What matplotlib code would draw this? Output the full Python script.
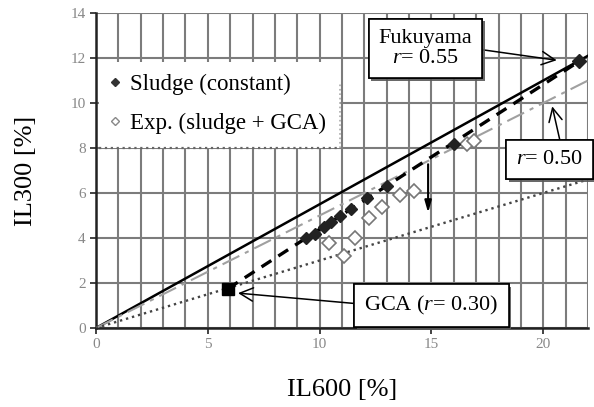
import matplotlib
matplotlib.use("Agg")
import matplotlib.pyplot as plt
from matplotlib import patheffects as pe
from matplotlib.patches import Rectangle

plt.rcParams['font.family'] = ['Liberation Serif', 'DejaVu Serif']
plt.rcParams['mathtext.fontset'] = 'custom'
plt.rcParams['mathtext.rm'] = 'Liberation Serif'
plt.rcParams['mathtext.it'] = 'Liberation Serif:italic'

# ---- data ----
sludge_x = [9.4, 9.8, 10.2, 10.5, 10.9, 11.4, 12.1, 13.0, 16.0]
sludge_y = [4.0, 4.2, 4.5, 4.7, 5.0, 5.3, 5.8, 6.3, 8.2]
exp_x = [10.4, 11.1, 11.6, 12.2, 12.8, 13.6, 14.2, 16.6, 16.9]
exp_y = [3.8, 3.2, 4.0, 4.9, 5.4, 5.9, 6.1, 8.2, 8.3]
fukuyama_xy = (21.6, 11.85)
gca_xy = (5.9, 1.75)
r_fukuyama = 0.55
r_mid = 0.50
r_gca = 0.30
x_range = [0, 22]
x_ticks = [0, 5, 10, 15, 20]
y_ticks = [0, 2, 4, 6, 8, 10, 12, 14]

fig = plt.figure(figsize=(5.94, 4.07), dpi=100)
ax = fig.add_axes([96/594, 1-328/407, (588-96)/594, (328-13)/407])

ax.set_xlim(0, 22)
ax.set_ylim(0, 14)

# grid
for xv in range(0, 23):
    ax.axvline(xv, color='#7c7c7c', lw=1.5, zorder=0.5)
for yv in y_ticks:
    ax.axhline(yv, color='#7c7c7c', lw=1.5, zorder=0.5)

# legend background
ax.add_patch(Rectangle((0.12, 8.0), 10.8, 3.8, facecolor='white', edgecolor='none', zorder=1))
ax.plot([0.12, 10.9], [8.0, 8.0], color='#666666', lw=1.6, ls=':', zorder=1.1)
ax.plot([10.9, 10.9], [8.0, 10.9], color='#aaaaaa', lw=1.2, ls=':', zorder=1.1)

# reference lines
ax.plot(x_range, [r_fukuyama * v for v in x_range], color='black', lw=1.8, zorder=3)
ax.plot(x_range, [r_mid * v for v in x_range], color='#a0a0a0', lw=1.5,
        dashes=(9, 3, 2, 3), zorder=3)
ax.plot(x_range, [r_gca * v for v in x_range], color='#444444', lw=1.7, ls=':', zorder=3)
ax.plot([gca_xy[0], fukuyama_xy[0]], [gca_xy[1], fukuyama_xy[1]], color='black',
        lw=2.4, dashes=(3.5, 2.5), zorder=3.5)

# data points
ax.plot(exp_x, exp_y, ls='none', marker='D', markersize=7, markerfacecolor='white',
        markeredgecolor='#777777', markeredgewidth=1.2, zorder=4)
ax.plot(sludge_x, sludge_y, ls='none', marker='D', markersize=6, color='#222222', zorder=5)
ax.plot([fukuyama_xy[0]], [fukuyama_xy[1]], ls='none', marker='D', markersize=7,
        color='#222222', zorder=5)
ax.plot([gca_xy[0]], [gca_xy[1]], ls='none', marker='s', markersize=9, color='black', zorder=5)

# legend
h1, = ax.plot([], [], ls='none', marker='D', markersize=4, color='#333333')
h2, = ax.plot([], [], ls='none', marker='D', markersize=4, markerfacecolor='white',
              markeredgecolor='#888888')
ax.legend([h1, h2], ['Sludge (constant)', 'Exp. (sludge + GCA)'], loc='upper left',
          bbox_to_anchor=(0.002, 0.835), frameon=False, fontsize=16.5, handlelength=0.8,
          handletextpad=0.25, labelspacing=0.78, borderaxespad=0.0)

# vertical arrow
ax.annotate('', xy=(14.85, 5.0), xytext=(14.85, 7.4),
            arrowprops=dict(arrowstyle='-|>,head_length=0.7,head_width=0.2',
                            color='black', lw=1.5), zorder=6)

shadow = [pe.withSimplePatchShadow(offset=(2, -2), shadow_rgbFace='0.35', alpha=0.9),
          pe.Normal()]
box = dict(boxstyle='square,pad=0.45', facecolor='white', edgecolor='black', lw=1.2)
aprops = dict(arrowstyle='->,head_length=0.6,head_width=0.3', color='black', lw=1.1,
              shrinkA=0, shrinkB=0)

t1 = ax.annotate('Fukuyama\n$\\mathit{r}$= 0.55', xy=(20.6, 11.9), xytext=(14.73, 12.43),
                 ha='center', va='center', fontsize=16, linespacing=1.1, bbox=box,
                 arrowprops=dict(aprops, relpos=(1.0, 0.5)), zorder=7)
t2 = ax.annotate('$\\mathit{r}$= 0.50', xy=(20.4, 9.85), xytext=(20.27, 7.5),
                 ha='center', va='center', fontsize=16, bbox=box,
                 arrowprops=dict(aprops, relpos=(0.69, 1.0)), zorder=7,
                 annotation_clip=False)
t3 = ax.annotate('GCA ($\\mathit{r}$= 0.30)', xy=(6.35, 1.55), xytext=(15.0, 1.0),
                 ha='center', va='center', fontsize=16, bbox=box,
                 arrowprops=dict(aprops, relpos=(0.0, 0.55)), zorder=7)
for t in (t1, t2, t3):
    t.get_bbox_patch().set_path_effects(shadow)
    t.set_clip_on(False)

# axes styling
for s in ['top', 'right']:
    ax.spines[s].set_visible(False)
for s in ['left', 'bottom']:
    ax.spines[s].set_linewidth(1.8)
    ax.spines[s].set_color('#222222')
ax.set_xticks(x_ticks)
ax.set_yticks(y_ticks)
ax.tick_params(direction='out', length=4, width=1.2, color='#222222',
               labelcolor='#888888', labelsize=11)

ax.set_xlabel('IL600 [%]', fontsize=19, labelpad=20)
ax.set_ylabel('IL300 [%]', fontsize=19, labelpad=24)

fig.savefig('out.png', dpi=100)
